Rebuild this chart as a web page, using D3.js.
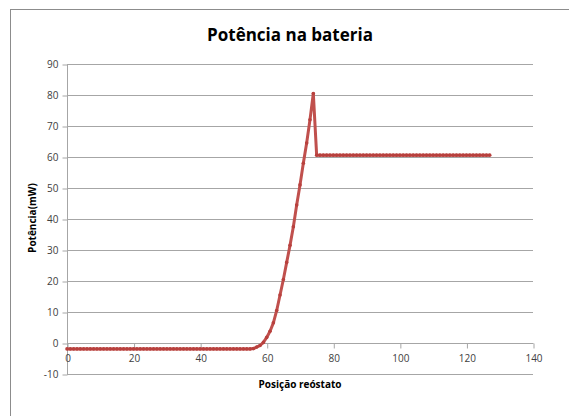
<!DOCTYPE html>
<html><head><meta charset="utf-8">
<script src="https://cdn.jsdelivr.net/npm/d3@7"></script>
<style>body{margin:0;background:#fff}svg{display:block}</style>
</head><body>
<script>
// Data
const flatLow = -1.9;
const xLow = d3.range(0, 56);            // flat positions 0..55
const riseX = [56,57,58,59,60,61,62,63,64,65,66,67,68,69,70,71,72,73,74];
const riseY = [-1.8,-1.3,-0.8,0.2,1.8,3.8,6.5,10.5,15.5,20.5,26,31.5,37.5,44.5,51,58,64.5,72,80.5];
const flatHigh = 60.6;
const xHigh = d3.range(75, 128);         // flat positions 75..127
const xTicks = [0,20,40,60,80,100,120,140];
const yTicks = [-10,0,10,20,30,40,50,60,70,80,90];
const title = "Potência na bateria";
const xTitle = "Posição reóstato";
const yTitle = "Potência(mW)";

const data = [];
xLow.forEach(x => data.push([x, flatLow]));
riseX.forEach((x,i) => data.push([x, riseY[i]]));
xHigh.forEach(x => data.push([x, flatHigh]));

const W = 569, H = 416;
const svg = d3.select("body").append("svg").attr("width", W).attr("height", H);
const font = "'Open Sans', sans-serif";

svg.append("rect").attr("x",10.5).attr("y",9.5).attr("width",700).attr("height",600)
  .attr("fill","#fff").attr("stroke","#8c8c8c");

const x = d3.scaleLinear().domain([0,140]).range([67,533]);
const y = d3.scaleLinear().domain([-10,90]).range([374,64]);

// gridlines
svg.append("g").selectAll("line").data(yTicks.filter(t=>t!==0)).join("line")
  .attr("x1",67).attr("x2",533).attr("y1",d=>Math.round(y(d))+0.5).attr("y2",d=>Math.round(y(d))+0.5)
  .attr("stroke","#a6a6a6").attr("stroke-width",1);

// y axis
const yAxis = svg.append("g").attr("transform","translate(67.5,0.5)")
  .call(d3.axisLeft(y).tickValues(yTicks).tickSize(5).tickPadding(4).tickFormat(d=>String(d)));
yAxis.select(".domain").attr("stroke","#a6a6a6").attr("d", `M0,${y(90)}V${y(-10)}`);
yAxis.selectAll(".tick line").attr("stroke","#a6a6a6");
yAxis.selectAll("text").attr("font-family",font).attr("font-size",10).attr("fill","#404040");

// x axis at y=0
const xAxis = svg.append("g").attr("transform",`translate(0.5,${Math.round(y(0))+0.5})`)
  .call(d3.axisBottom(x).tickValues(xTicks).tickSize(5).tickPadding(6).tickFormat(d=>String(d)));
xAxis.select(".domain").attr("stroke","#a6a6a6").attr("d", `M${x(0)},0H${x(140)}`);
xAxis.selectAll(".tick line").attr("stroke","#a6a6a6");
xAxis.selectAll("text").attr("font-family",font).attr("font-size",10).attr("fill","#404040");

// line
const line = d3.line().x(d=>x(d[0])).y(d=>y(d[1]));
svg.append("path").datum(data).attr("d",line).attr("fill","none")
  .attr("stroke","#c0504d").attr("stroke-width",3).attr("stroke-linejoin","round");
svg.append("g").selectAll("circle").data(data).join("circle")
  .attr("cx",d=>x(d[0])).attr("cy",d=>y(d[1])).attr("r",1.8)
  .attr("fill","#b8403d");

// titles
svg.append("text").attr("x",290).attr("y",41).attr("text-anchor","middle")
  .attr("font-family",font).attr("font-weight","bold").attr("font-size",17).attr("fill","#000").text(title);
svg.append("text").attr("x",300).attr("y",388).attr("text-anchor","middle")
  .attr("font-family",font).attr("font-weight","bold").attr("font-size",10).attr("fill","#000").text(xTitle);
svg.append("text").attr("transform","translate(36,218) rotate(-90)").attr("text-anchor","middle")
  .attr("font-family",font).attr("font-weight","bold").attr("font-size",10).attr("fill","#000").text(yTitle);
</script>
</body></html>
